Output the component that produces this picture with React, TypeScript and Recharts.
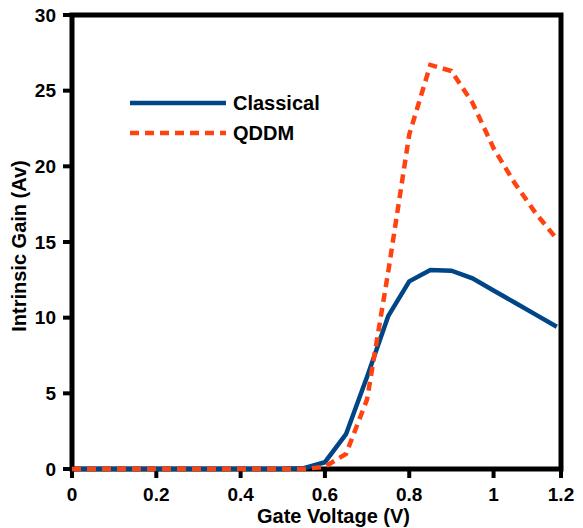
import React from 'react';
import { LineChart, Line, XAxis, YAxis, ReferenceArea, Legend } from 'recharts';

const gateVoltage = [0, 0.05, 0.1, 0.15, 0.2, 0.25, 0.3, 0.35, 0.4, 0.45, 0.5, 0.55, 0.6, 0.65, 0.7, 0.75, 0.8, 0.85, 0.9, 0.95, 1.0, 1.05, 1.1, 1.15];
const classicalGain = [0, 0, 0, 0, 0, 0, 0, 0, 0, 0, 0, 0.05, 0.45, 2.3, 6.1, 10.1, 12.4, 13.15, 13.1, 12.6, 11.8, 11.0, 10.2, 9.4];
const qddmGain = [0, 0, 0, 0, 0, 0, 0, 0, 0, 0, 0, 0, 0.15, 1.0, 4.6, 13.0, 22.1, 26.7, 26.3, 24.2, 21.2, 18.9, 16.9, 15.2];

const xTicks = [0, 0.2, 0.4, 0.6, 0.8, 1, 1.16];
const xTickLabels = ['0', '0.2', '0.4', '0.6', '0.8', '1', '1.2'];
const yTicks = [0, 5, 10, 15, 20, 25, 30];

const series = [
  { key: 'classical', name: 'Classical', color: '#004586', dash: undefined as string | undefined, width: 4.5 },
  { key: 'qddm', name: 'QDDM', color: '#ff420e', dash: '9 6', width: 4.5 },
];

const data = gateVoltage.map((v, i) => ({ v, classical: classicalGain[i], qddm: qddmGain[i] }));

const FONT = '"Liberation Sans", Arial, sans-serif';

const renderLegend = () => (
  <div style={{ fontFamily: FONT, fontWeight: 'bold', fontSize: 20, color: '#000' }}>
    {series.map((s) => (
      <div key={s.key} style={{ display: 'flex', alignItems: 'center', height: 30 }}>
        <svg width={100} height={30}>
          <line x1={2} y1={15} x2={98} y2={15} stroke={s.color} strokeWidth={s.width} strokeDasharray={s.dash} />
        </svg>
        <span style={{ marginLeft: 5 }}>{s.name}</span>
      </div>
    ))}
  </div>
);

const App: React.FC = () => {
  return (
    <div style={{ position: 'fixed', left: 0, top: 0, width: 583, height: 528, background: '#fff' }}>
      <LineChart width={583} height={528} data={data} margin={{ top: 15, right: 22, left: 22, bottom: 29 }}>
        <ReferenceArea x1={0} x2={1.16} y1={0} y2={30} fill="none" stroke="#000" strokeWidth={5} zIndex={-10} />
        <XAxis
          dataKey="v"
          type="number"
          domain={[0, 1.16]}
          ticks={xTicks}
          tickFormatter={(v: number) => xTickLabels[xTicks.indexOf(v)] ?? String(v)}
          height={30}
          axisLine={false}
          tickLine={{ stroke: '#000', strokeWidth: 4 }}
          tickSize={9}
          tickMargin={10}
          tick={{ fill: '#000', fontSize: 19, fontWeight: 'bold', fontFamily: FONT }}
          label={{
            content: ({ viewBox }: any) => (
              <text x={viewBox.x + viewBox.width / 2 + 17} y={viewBox.y + viewBox.height + 24} textAnchor="middle" fontSize={20} fontWeight="bold" fontFamily={FONT} fill="#000">
                Gate Voltage (V)
              </text>
            ),
          }}
        />
        <YAxis
          type="number"
          domain={[0, 30]}
          ticks={yTicks}
          width={50}
          axisLine={false}
          tickLine={{ stroke: '#000', strokeWidth: 4 }}
          tickSize={9}
          tickMargin={7}
          tick={{ fill: '#000', fontSize: 19, fontWeight: 'bold', fontFamily: FONT }}
          label={{
            content: () => (
              <text x={26} y={246} transform="rotate(-90 26 246)" textAnchor="middle" fontSize={20} fontWeight="bold" fontFamily={FONT} fill="#000">
                Intrinsic Gain (Av)
              </text>
            ),
          }}
        />
        <Legend content={renderLegend} layout="horizontal" verticalAlign="middle" align="center" wrapperStyle={{ top: 88, left: 128, width: 'auto' }} />
        {series.map((s) => (
          <Line
            key={s.key}
            type="linear"
            dataKey={s.key}
            name={s.name}
            stroke={s.color}
            strokeWidth={s.width}
            strokeDasharray={s.dash}
            dot={false}
            isAnimationActive={false}
            zIndex={700}
          />
        ))}
      </LineChart>
    </div>
  );
};

export default App;
